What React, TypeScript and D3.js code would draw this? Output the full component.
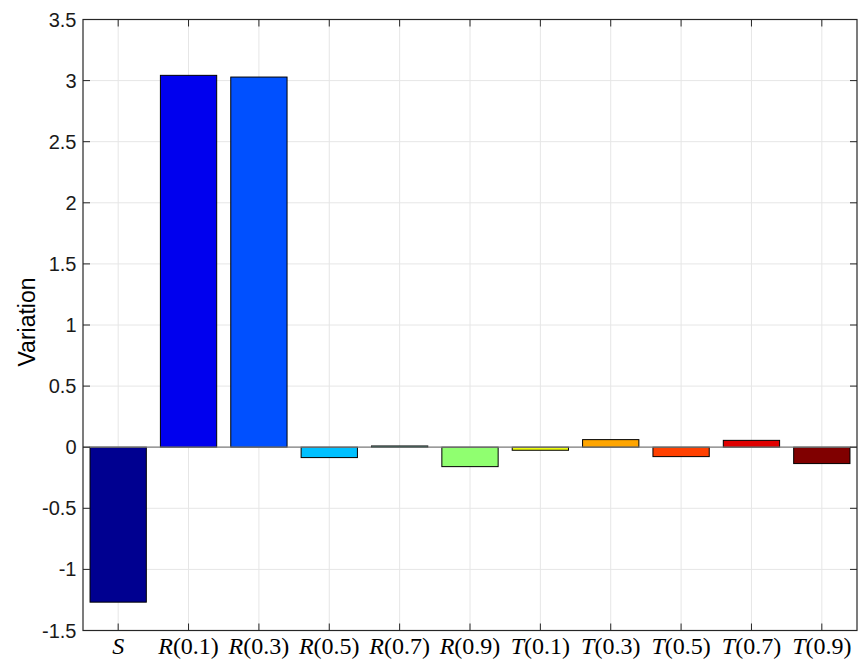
import React from "react";
import * as d3 from "d3";

const categories = ["S", "R(0.1)", "R(0.3)", "R(0.5)", "R(0.7)", "R(0.9)", "T(0.1)", "T(0.3)", "T(0.5)", "T(0.7)", "T(0.9)"];
const values = [-1.268, 3.043, 3.029, -0.085, 0.01, -0.159, -0.025, 0.062, -0.077, 0.056, -0.134];
const colors = ["#000090", "#0000EE", "#0050FF", "#00C0FF", "#30FFC8", "#90FF70", "#F0FF10", "#FFA500", "#FF4000", "#E00000", "#800000"];
const yTicks = [-1.5, -1, -0.5, 0, 0.5, 1, 1.5, 2, 2.5, 3, 3.5];

const W = 864, H = 669;
const L = 83, R = 857, T = 19.5, B = 630.5;

export default function App() {
  const x = d3.scaleBand<string>().domain(categories).range([L, R]).paddingInner(0.2).paddingOuter(0.1);
  const xc = d3.scaleBand<string>().domain(categories).range([L, R]);
  const y = d3.scaleLinear().domain([-1.5, 3.5]).range([B, T]);
  const fmt = (v: number) => String(v);
  return (
    <svg width={W} height={H} style={{ position: "absolute", left: 0, top: 0 }} fontFamily="'Liberation Sans', Arial, sans-serif">
      <rect x={0} y={0} width={W} height={H} fill="#fff" />
      {yTicks.map((t) => (
        <line key={"gy" + t} x1={L} x2={R} y1={y(t)} y2={y(t)} stroke="#e6e6e6" strokeWidth={1} />
      ))}
      {categories.map((c) => {
        const cx = xc(c)! + xc.bandwidth() / 2;
        return <line key={"gx" + c} x1={cx} x2={cx} y1={T} y2={B} stroke="#e6e6e6" strokeWidth={1} />;
      })}
      {categories.map((c, i) => {
        const v = values[i];
        const y0 = y(0), y1 = y(v);
        return (
          <rect key={"b" + c} x={x(c)} width={x.bandwidth()} y={Math.min(y0, y1)} height={Math.max(Math.abs(y1 - y0), 1)}
            fill={colors[i]} stroke="#000" strokeWidth={1} />
        );
      })}
      <line x1={L} x2={R} y1={y(0)} y2={y(0)} stroke="#7f7f7f" strokeWidth={1.2} />
      <rect x={L} y={T} width={R - L} height={B - T} fill="none" stroke="#262626" strokeWidth={1.2} />
      {yTicks.map((t) => (
        <g key={"ty" + t}>
          <line x1={L} x2={L + 7} y1={y(t)} y2={y(t)} stroke="#262626" strokeWidth={1} />
          <line x1={R} x2={R - 7} y1={y(t)} y2={y(t)} stroke="#262626" strokeWidth={1} />
          <text x={L - 6.5} y={y(t)} dy="0.35em" textAnchor="end" fontSize={20} fill="#1a1a1a">{fmt(t)}</text>
        </g>
      ))}
      {categories.map((c) => {
        const cx = xc(c)! + xc.bandwidth() / 2;
        const m = c.match(/^([A-Z])(.*)$/)!;
        return (
          <g key={"tx" + c}>
            <line x1={cx} x2={cx} y1={B} y2={B - 7} stroke="#262626" strokeWidth={1} />
            <line x1={cx} x2={cx} y1={T} y2={T + 7} stroke="#262626" strokeWidth={1} />
            <text x={cx} y={654} textAnchor="middle" fontSize={24} fill="#000" fontFamily="'Liberation Serif', 'Times New Roman', serif">
              <tspan fontStyle="italic">{m[1]}</tspan>
              <tspan>{m[2]}</tspan>
            </text>
          </g>
        );
      })}
      <text transform={`translate(35, 322) rotate(-90)`} textAnchor="middle" fontSize={23} fill="#000">Variation</text>
    </svg>
  );
}
